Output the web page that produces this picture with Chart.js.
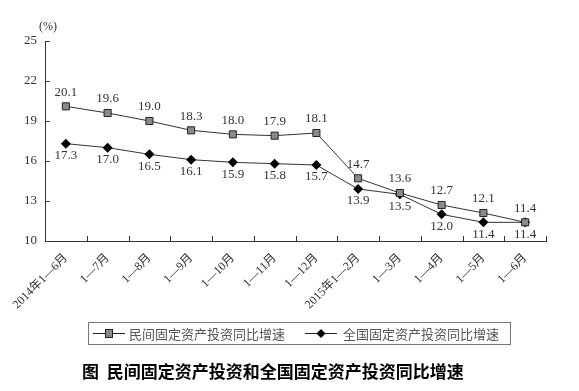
<!DOCTYPE html>
<html>
<head>
<meta charset="utf-8">
<script src="https://cdn.jsdelivr.net/npm/chart.js@4"></script>
<style>
body{margin:0;background:#fff;}
#wrap{width:579px;height:391px;position:relative;}
</style>
</head>
<body>
<div id="wrap"><canvas id="grafica" width="579" height="391"></canvas></div>
<script>
//DATOS
var meses = ['2014年1—6月','1—7月','1—8月','1—9月','1—10月','1—11月','1—12月','2015年1—2月','1—3月','1—4月','1—5月','1—6月'];
var minjian = [20.1,19.6,19.0,18.3,18.0,17.9,18.1,14.7,13.6,12.7,12.1,11.4];
var quanguo = [17.3,17.0,16.5,16.1,15.9,15.8,15.7,13.9,13.5,12.0,11.4,11.4];
var nombres = ['民间固定资产投资同比增速','全国固定资产投资同比增速'];
var titulo = '图  民间固定资产投资和全国固定资产投资同比增速';
var ejeY = [10,13,16,19,22,25];

var serif = '"Liberation Serif","Noto Sans CJK SC",serif';
var cjk = '"Noto Sans CJK SC",sans-serif';

//PLUGIN: ticks hacia dentro, etiquetas, leyenda y titulo
var extras = {
    id:'extras',
    afterDraw: function(chart){
        var ctx = chart.ctx;
        var x = chart.scales.x, y = chart.scales.y;
        ctx.save();
        ctx.strokeStyle = '#333';
        ctx.lineWidth = 1;
        // ticks del eje y
        ejeY.forEach(function(v){
            var py = Math.round(y.getPixelForValue(v)) + 0.5;
            ctx.beginPath(); ctx.moveTo(x.left, py); ctx.lineTo(x.left + 5, py); ctx.stroke();
        });
        // ticks del eje x (entre categorias)
        var paso = (x.right - x.left) / meses.length;
        for (var i = 1; i <= meses.length; i++) {
            var px = Math.round(x.left + paso * i) + 0.5;
            ctx.beginPath(); ctx.moveTo(px, y.bottom); ctx.lineTo(px, y.bottom - 5); ctx.stroke();
        }
        // (%)
        ctx.fillStyle = '#333';
        ctx.font = '12px ' + serif;
        ctx.textAlign = 'center'; ctx.textBaseline = 'middle';
        ctx.fillText('(%)', x.left + 3, 27);
        // etiquetas de datos
        ctx.font = '13px ' + serif;
        chart.getDatasetMeta(0).data.forEach(function(p, i){
            ctx.fillText(minjian[i].toFixed(1), p.x, p.y - 14);
        });
        chart.getDatasetMeta(1).data.forEach(function(p, i){
            ctx.fillText(quanguo[i].toFixed(1), p.x, p.y + 12);
        });
        // leyenda
        ctx.strokeStyle = '#777';
        ctx.strokeRect(88.5, 322.5, 422, 22);
        ctx.strokeStyle = '#222';
        ctx.beginPath(); ctx.moveTo(93, 333.5); ctx.lineTo(125, 333.5); ctx.stroke();
        ctx.fillStyle = '#888';
        ctx.fillRect(105, 329, 8, 9); ctx.strokeRect(105.5, 329.5, 7, 8);
        ctx.beginPath(); ctx.moveTo(305, 333.5); ctx.lineTo(337, 333.5); ctx.stroke();
        ctx.fillStyle = '#000';
        ctx.beginPath(); ctx.moveTo(321, 329); ctx.lineTo(325.5, 333.5); ctx.lineTo(321, 338); ctx.lineTo(316.5, 333.5); ctx.closePath(); ctx.fill();
        ctx.fillStyle = '#555';
        ctx.font = '13px ' + cjk;
        ctx.textAlign = 'left';
        ctx.fillText(nombres[0], 129, 334);
        ctx.fillText(nombres[1], 343, 334);
        // titulo
        ctx.fillStyle = '#000';
        ctx.font = 'bold 17px ' + cjk;
        ctx.fillText(titulo, 82, 372);
        ctx.restore();
    }
};

var config = {
    type:'line',
    data:{
        labels: meses,
        datasets:[{
            label: nombres[0],
            data: minjian,
            borderColor:'#333',
            borderWidth:1,
            pointStyle:'rect',
            pointRadius:5,
            pointBackgroundColor:'#8a8a8a',
            pointBorderColor:'#222',
            pointBorderWidth:1,
            tension:0
        },{
            label: nombres[1],
            data: quanguo,
            borderColor:'#333',
            borderWidth:1,
            pointStyle:'rectRot',
            pointRadius:5,
            pointBackgroundColor:'#000',
            pointBorderColor:'#000',
            pointBorderWidth:0,
            tension:0
        }]
    },
    options:{
        responsive:false,
        animation:false,
        layout:{padding:{top:41,right:33,left:0,bottom:0}},
        plugins:{legend:{display:false},tooltip:{enabled:false}},
        scales:{
            x:{
                offset:true,
                grid:{display:false},
                border:{display:true,color:'#333',width:1},
                ticks:{color:'#333',font:{family:serif,size:12},minRotation:45,maxRotation:45,autoSkip:false,padding:2},
                afterFit:function(s){ s.height = 150; }
            },
            y:{
                min:10,max:25,
                grid:{display:false},
                border:{display:true,color:'#333',width:1},
                ticks:{stepSize:3,color:'#333',font:{family:serif,size:13},padding:0},
                afterFit:function(s){ s.width = 45; }
            }
        }
    },
    plugins:[extras]
};
var miGrafico = new Chart(document.getElementById('grafica').getContext('2d'), config);
</script>
</body>
</html>
